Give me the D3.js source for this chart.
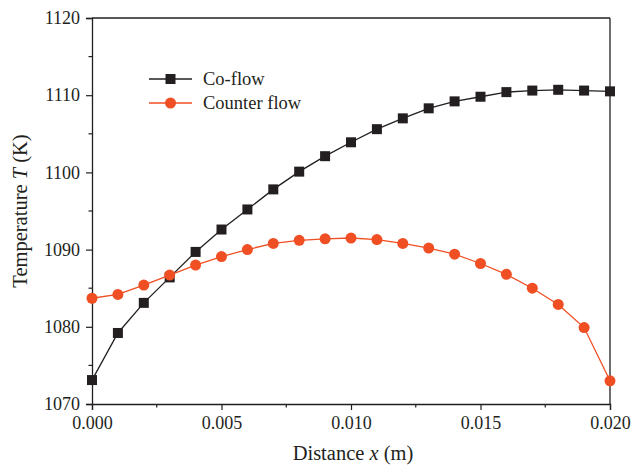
<!DOCTYPE html>
<html>
<head>
<meta charset="utf-8">
<script src="https://cdn.jsdelivr.net/npm/d3@7"></script>
<style>
  body { margin: 0; background: #fff; }
  text { font-family: "Liberation Serif", "Times New Roman", serif; fill: #231f20; }
</style>
</head>
<body>
<div id="chart"></div>
<script>
// distance along channel (m)
var distance = [0, 0.001, 0.002, 0.003, 0.004, 0.005, 0.006, 0.007, 0.008, 0.009, 0.010,
                0.011, 0.012, 0.013, 0.014, 0.015, 0.016, 0.017, 0.018, 0.019, 0.020];
var coFlow = [1073.1, 1079.2, 1083.1, 1086.4, 1089.7, 1092.6, 1095.2, 1097.8, 1100.1, 1102.1, 1103.9,
              1105.6, 1107.0, 1108.3, 1109.2, 1109.8, 1110.4, 1110.6, 1110.7, 1110.6, 1110.5];
var counterFlow = [1083.7, 1084.2, 1085.4, 1086.7, 1088.0, 1089.1, 1090.0, 1090.8, 1091.2, 1091.4, 1091.5,
                   1091.3, 1090.8, 1090.2, 1089.4, 1088.2, 1086.8, 1085.0, 1082.9, 1079.9, 1073.0];
var xTicks = [0, 0.005, 0.010, 0.015, 0.020];
var yTicks = [1070, 1080, 1090, 1100, 1110, 1120];
var seriesNames = ["Co-flow", "Counter flow"];

var W = 635, H = 466;
var m = {left: 92, right: 25, top: 18, bottom: 62};
var black = "#231f20", orange = "#f04e23";

var svg = d3.select("#chart").append("svg").attr("width", W).attr("height", H);

var x = d3.scaleLinear().domain([0, 0.02]).range([m.left, W - m.right]);
var y = d3.scaleLinear().domain([1070, 1120]).range([H - m.bottom, m.top]);

// frame (top + right lines)
svg.append("line").attr("x1", x(0)).attr("x2", x(0.02)).attr("y1", y(1120)).attr("y2", y(1120))
    .attr("stroke", black).attr("stroke-width", 1.3);
svg.append("line").attr("x1", x(0.02)).attr("x2", x(0.02)).attr("y1", y(1070)).attr("y2", y(1120))
    .attr("stroke", black).attr("stroke-width", 1.3);

// minor ticks
var xMinor = d3.range(0.0025, 0.02, 0.005);
var yMinor = d3.range(1075, 1120, 10);
svg.append("g").selectAll("line").data(xMinor).enter().append("line")
    .attr("x1", function(d) { return x(d); }).attr("x2", function(d) { return x(d); })
    .attr("y1", y(1070)).attr("y2", y(1070) + 3.5)
    .attr("stroke", black).attr("stroke-width", 1.2);
svg.append("g").selectAll("line").data(yMinor).enter().append("line")
    .attr("y1", function(d) { return y(d); }).attr("y2", function(d) { return y(d); })
    .attr("x1", x(0)).attr("x2", x(0) - 3.5)
    .attr("stroke", black).attr("stroke-width", 1.2);

var xAxis = svg.append("g").attr("transform", "translate(0," + y(1070) + ")")
    .call(d3.axisBottom(x).tickValues(xTicks).tickFormat(d3.format(".3f")).tickSize(6).tickPadding(6));
var yAxis = svg.append("g").attr("transform", "translate(" + x(0) + ",0)")
    .call(d3.axisLeft(y).tickValues(yTicks).tickFormat(d3.format("d")).tickSize(6).tickPadding(6));

[xAxis, yAxis].forEach(function(a) {
    a.select(".domain").attr("stroke", black).attr("stroke-width", 1.3);
    a.selectAll(".tick line").attr("stroke", black).attr("stroke-width", 1.2);
    a.selectAll(".tick text").attr("font-size", 18).attr("font-family", "Liberation Serif").attr("fill", black);
});

// axis titles
var xt = svg.append("text").attr("x", 353).attr("y", 460).attr("text-anchor", "middle").attr("font-size", 20.5);
xt.append("tspan").text("Distance ");
xt.append("tspan").attr("font-style", "italic").text("x");
xt.append("tspan").text(" (m)");

var yt = svg.append("text").attr("transform", "translate(27,211) rotate(-90)")
    .attr("text-anchor", "middle").attr("font-size", 20.5);
yt.append("tspan").text("Temperature ");
yt.append("tspan").attr("font-style", "italic").text("T");
yt.append("tspan").text(" (K)");

function drawSeries(vals, color, shape) {
    var pts = distance.map(function(d, i) { return [d, vals[i]]; });
    var line = d3.line().x(function(d) { return x(d[0]); }).y(function(d) { return y(d[1]); });
    svg.append("path").datum(pts).attr("d", line)
        .attr("fill", "none").attr("stroke", color).attr("stroke-width", 1.3);
    var g = svg.append("g");
    if (shape == "square") {
        g.selectAll("rect").data(pts).enter().append("rect")
            .attr("x", function(d) { return x(d[0]) - 5; })
            .attr("y", function(d) { return y(d[1]) - 5; })
            .attr("width", 10).attr("height", 10).attr("fill", color);
    } else {
        g.selectAll("circle").data(pts).enter().append("circle")
            .attr("cx", function(d) { return x(d[0]); })
            .attr("cy", function(d) { return y(d[1]); })
            .attr("r", 5.5).attr("fill", color);
    }
}

drawSeries(coFlow, black, "square");
drawSeries(counterFlow, orange, "circle");

// legend
var leg = svg.append("g");
var legY = [79, 103];
[[black, "square"], [orange, "circle"]].forEach(function(s, i) {
    leg.append("line").attr("x1", 149).attr("x2", 192).attr("y1", legY[i]).attr("y2", legY[i])
        .attr("stroke", s[0]).attr("stroke-width", 1.3);
    if (s[1] == "square") {
        leg.append("rect").attr("x", 165.5).attr("y", legY[i] - 5).attr("width", 10).attr("height", 10).attr("fill", s[0]);
    } else {
        leg.append("circle").attr("cx", 170.5).attr("cy", legY[i]).attr("r", 5.5).attr("fill", s[0]);
    }
    leg.append("text").attr("x", 203).attr("y", legY[i] + 6).attr("font-size", 18.5).text(seriesNames[i]);
});
</script>
</body>
</html>
